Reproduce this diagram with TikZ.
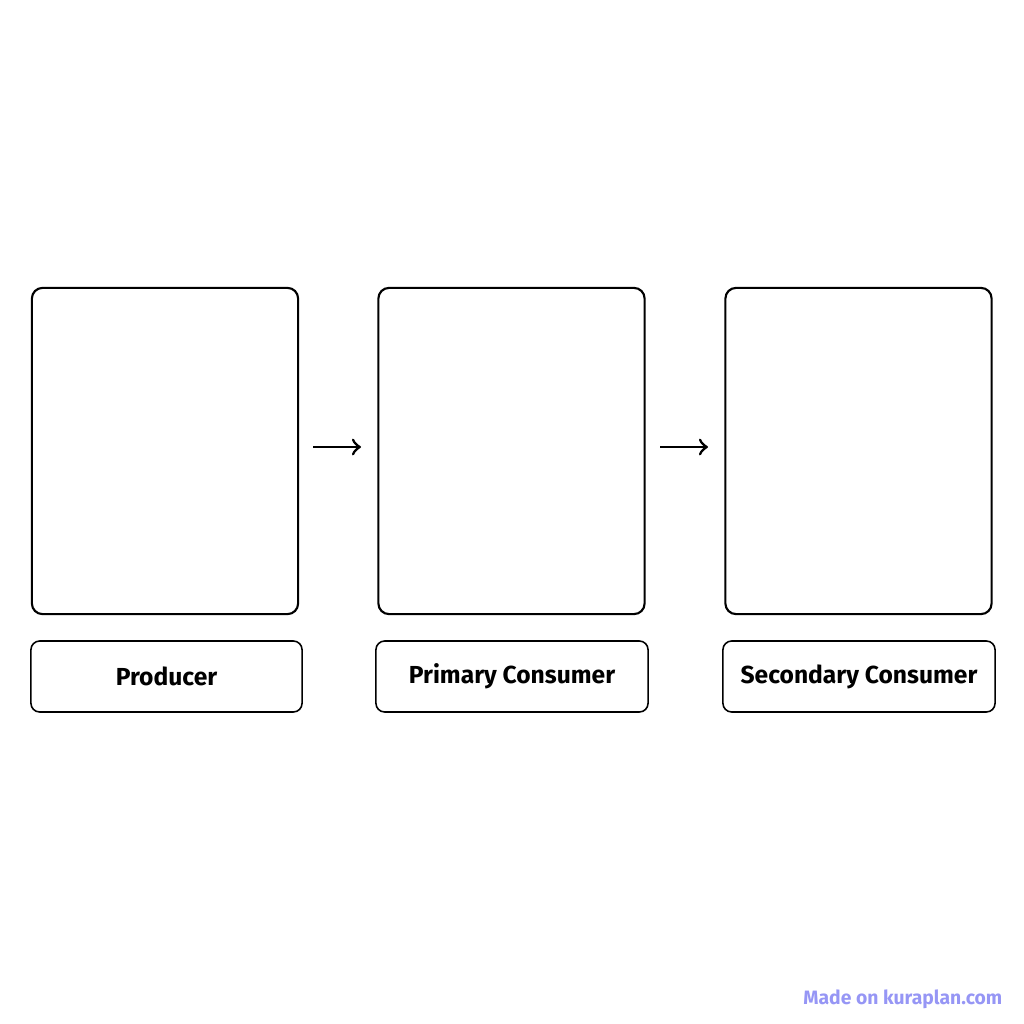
\documentclass[tikz,border=0pt]{standalone}
\usepackage{fontspec}
\setmainfont{Fira Sans}
\usetikzlibrary{arrows}
\definecolor{mark}{RGB}{150,150,245}
\begin{document}
\begin{tikzpicture}[x=0.01cm,y=-0.01cm]
        \useasboundingbox (0,0) rectangle (1024,1024);
        \tikzset{panel/.style={draw, line width=0.6pt, rounded corners=3pt, minimum width=2.66cm, minimum height=3.26cm},
                 tag/.style={draw, line width=0.45pt, rounded corners=2.5pt, inner sep=0pt, minimum height=0.71cm, font=\fontsize{7}{8}\selectfont\bfseries}}
        
        \node[panel] (P) at (165,451) {};
        \node[panel] (C1) at (511.5,451) {};
        \node[panel] (C2) at (858.5,451) {};
        
        \node[tag, minimum width=2.71cm] (Pl) at (166.5,676.5) {Producer};
        \node[tag, minimum width=2.72cm] (C1l) at (512,676.5) {Primary Consumer};
        \node[tag, minimum width=2.72cm] (C2l) at (859,676.5) {Secondary Consumer};
        
        \coordinate (a1) at (313,447);
        \coordinate (b1) at (361,447);
        \coordinate (a2) at (660,447);
        \coordinate (b2) at (708,447);
        \draw[->, line width=0.8pt] (a1) -- (b1);
        \draw[->, line width=0.8pt] (a2) -- (b2);
        
        \node[text=mark, font=\fontsize{5.5}{6}\selectfont\bfseries, anchor=east, inner sep=0pt] (mark) at (1003,999) {Made on kuraplan.com};
    \end{tikzpicture}
\end{document}
